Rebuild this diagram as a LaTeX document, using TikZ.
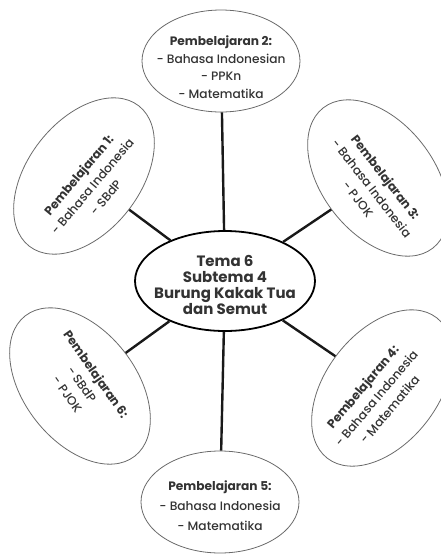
\documentclass[tikz,border=0pt]{standalone}
\usepackage{fontspec}
\setmainfont{Poppins}[UprightFont=* Medium, BoldFont=* Bold]
\usetikzlibrary{shapes.geometric}
\definecolor{inkgray}{HTML}{333333}
\definecolor{rimgray}{HTML}{6A6A6A}
\tikzset{
  outer/.style={ellipse, draw=rimgray, line width=0.8pt, inner sep=0pt,
    minimum width=#1},
  outer/.default=160pt,
  hub/.style={ellipse, draw=black, line width=1.8pt, inner sep=0pt,
    minimum width=180pt, minimum height=100pt},
  lbl/.style={text=inkgray, align=center, font=\fontsize{12.2}{17.5}\selectfont},
  hublbl/.style={text=inkgray, align=center, font=\fontsize{15}{16}\selectfont\bfseries},
  spoke/.style={draw=black!90, line width=2.4pt}
}
\begin{document}
\begin{tikzpicture}[x=1pt, y=-1pt]
  \useasboundingbox (0,0) rectangle (441,555);

  % centre
  \node[hub] (hub) at (225,281) {};
  \node[hublbl] (hubtext) at (225,285) {Tema 6\\Subtema 4\\Burung Kakak Tua\\dan Semut};

  % outer ellipses
  \node[outer=158pt, minimum height=102pt] (p2) at (221,61) {};
  \node[outer=158pt, minimum height=102pt] (p5) at (220,502) {};
  \node[outer=178pt, minimum height=112pt, rotate=52] (p1) at (84,176) {};
  \node[outer=178pt, minimum height=112pt, rotate=-52] (p3) at (378,178) {};
  \node[outer=178pt, minimum height=112pt, rotate=52] (p4) at (382,388) {};
  \node[outer=178pt, minimum height=112pt, rotate=-52] (p6) at (80,386) {};

  % labels
  \node[lbl] (t2) at (221,67) {\textbf{Pembelajaran 2:}\\- Bahasa Indonesian\\- PPKn\\- Matematika};
  \node[lbl, font=\fontsize{12.2}{20}\selectfont] (t5) at (220,506) {\textbf{Pembelajaran 5:}\\- Bahasa Indonesia\\- Matematika};
  \node[lbl, rotate=50] (t1) at (92,186) {\textbf{Pembelajaran 1:}\\- Bahasa Indonesia\\- SBdP};
  \node[lbl, rotate=-52] (t3) at (372,188) {\textbf{Pembelajaran 3:}\\- Bahasa Indonesia\\- PJOK};
  \node[lbl, rotate=50] (t4) at (376,398) {\textbf{Pembelajaran 4:}\\- Bahasa Indonesia\\- Matematika};
  \node[lbl, rotate=-55] (t6) at (82,384) {\textbf{Pembelajaran 6:}\\- SBdP\\- PJOK};

  % spokes
  \foreach \p in {p1,p2,p3,p4,p5,p6}
    \draw[spoke] (hub) -- (\p);
\end{tikzpicture}
\end{document}
